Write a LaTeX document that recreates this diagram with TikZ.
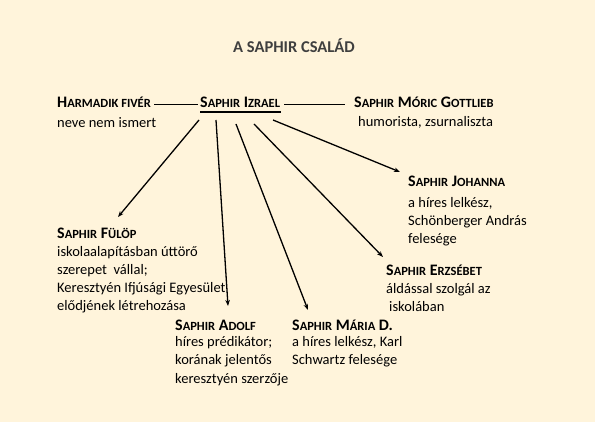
\documentclass[tikz,border=0pt]{standalone}
\usepackage{fontspec}
\setmainfont{Carlito}
\usetikzlibrary{positioning,arrows.meta,calc}
\definecolor{paper}{HTML}{FFF4DB}
\definecolor{titlegray}{HTML}{3F3F3F}
\newcommand\smc[1]{{\fontsize{12.5pt}{18pt}\selectfont #1}}

\begin{document}
\begin{tikzpicture}[x=1pt,y=-1pt,
  pname/.style={anchor=base west, inner sep=0pt, font=\bfseries\fontsize{16pt}{18pt}\selectfont},
  desc/.style={anchor=base west, inner sep=0pt, align=left, font=\fontsize{14.5pt}{18pt}\selectfont},
  link/.style={line width=0.9pt},
  child/.style={-{Stealth[length=6pt,width=4.5pt]}, line width=1.3pt}]
\fill[paper] (0,0) rectangle (595,422);
\useasboundingbox (0,0) rectangle (595,422);
\node[font=\bfseries\fontsize{16.5pt}{18pt}\selectfont, text=titlegray] (title) at (294,46) {A SAPHIR CSALÁD};

% parents' generation (desc nodes hang from their last line)
\node[pname] (harmadik) at (57,108) {H\smc{ARMADIK FIVÉR}};
\node[desc] (harmadikdesc) at ($(harmadik.base west)+(0,20)$) {neve nem ismert};
\node[pname] (izrael) at (200,108) {S\smc{APHIR} I\smc{ZRAEL}};
\node[pname] (moric) at (354,108) {S\smc{APHIR} M\smc{ÓRIC} G\smc{OTTLIEB}};
\node[desc] (moricdesc) at ($(moric.base west)+(4,19)$) {humorista, zsurnaliszta};

% children
\node[pname] (johanna) at (408,187) {S\smc{APHIR} J\smc{OHANNA}};
\node[desc] (johannadesc) at ($(johanna.base west)+(0,57)$) {a híres lelkész,\\Schönberger András\\felesége};
\node[pname] (fulop) at (57,239) {S\smc{APHIR} F\smc{ÜLÖP}};
\node[desc] (fulopdesc) at ($(fulop.base west)+(0,72)$) {iskolaalapításban úttörő\\szerepet\ \ vállal;\\Keresztyén Ifjúsági Egyesület\\elődjének létrehozása};
\node[pname] (erzsebet) at (386,276) {S\smc{APHIR} E\smc{RZSÉBET}};
\node[desc] (erzsebetdesc) at ($(erzsebet.base west)+(0,36)$) {áldással szolgál az\\\hspace*{3pt}iskolában};
\node[pname] (adolf) at (175,331) {S\smc{APHIR} A\smc{DOLF}};
\node[desc] (adolfdesc) at ($(adolf.base west)+(0,52)$) {híres prédikátor;\\korának jelentős\\keresztyén szerzője};
\node[pname] (maria) at (292,331) {S\smc{APHIR} M\smc{ÁRIA} D.};
\node[desc] (mariadesc) at ($(maria.base west)+(0,34)$) {a híres lelkész, Karl\\Schwartz felesége};

% lines
\draw[line width=2.4pt] ($(izrael.base west)+(0,4)$) -- ($(izrael.base east)+(1,4)$);
\draw[link] ($(harmadik.base east)+(3,-4)$) -- ($(izrael.base west)+(-2,-4)$);
\draw[link] ($(izrael.base east)+(4,-4)$) -- ($(moric.base west)+(-9,-4)$);
\draw[child] ($(izrael.base west)+(-1,12)$) -- ($(fulop.base west)+(61,-22)$);
\draw[child] ($(izrael.base west)+(16,12)$) -- ($(adolf.base west)+(53,-25)$);
\draw[child] ($(izrael.base west)+(36,16)$) -- ($(maria.base west)+(16,-21)$);
\draw[child] ($(izrael.base west)+(54,16)$) -- ($(erzsebet.base west)+(-3,-19)$);
\draw[child] ($(izrael.base west)+(73,12)$) -- ($(johanna.base west)+(-8,-15)$);
\end{tikzpicture}
\end{document}
